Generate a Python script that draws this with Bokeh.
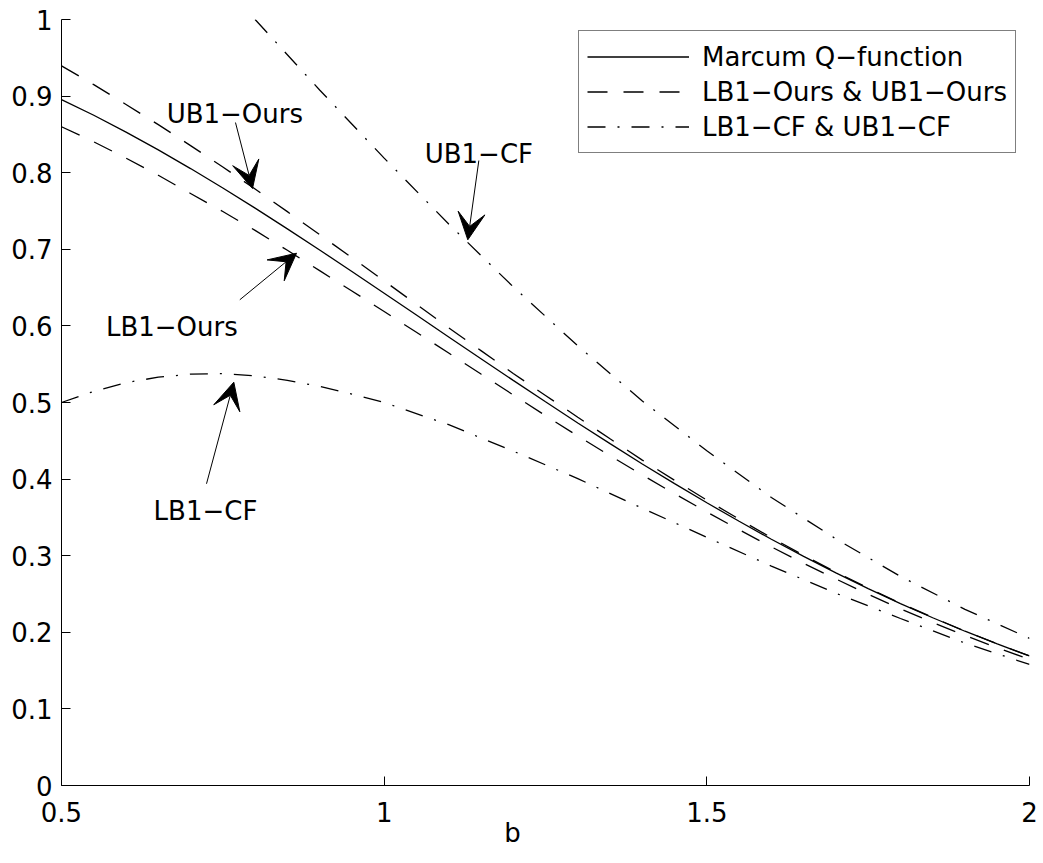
from bokeh.plotting import figure
from bokeh.models import (ColumnDataSource, Legend, LegendItem, Arrow, VeeHead,
                          Range1d, FixedTicker)
from bokeh.core.properties import value
from bokeh.embed import file_html
from bokeh.resources import INLINE

# ---------------- data ----------------
b = [0.5, 0.55, 0.6, 0.65, 0.7, 0.75, 0.8, 0.85, 0.9, 0.95, 1.0, 1.05, 1.1, 1.15,
     1.2, 1.25, 1.3, 1.35, 1.4, 1.45, 1.5, 1.55, 1.6, 1.65, 1.7, 1.75, 1.8, 1.85,
     1.9, 1.95, 2.0]
marcum_q = [0.8955, 0.8750, 0.8530, 0.8298, 0.8054, 0.7800, 0.7537, 0.7267,
            0.6991, 0.6711, 0.6427, 0.6142, 0.5856, 0.5572, 0.5289, 0.5009,
            0.4733, 0.4463, 0.4198, 0.3941, 0.3691, 0.3449, 0.3215, 0.2991,
            0.2776, 0.2571, 0.2375, 0.2190, 0.2014, 0.1848, 0.1691]
ub1_ours = [0.9395, 0.9150, 0.8890, 0.8628, 0.8354, 0.8075, 0.7787, 0.7492,
            0.7191, 0.6891, 0.6587, 0.6282, 0.5976, 0.5677, 0.5379, 0.5092,
            0.4808, 0.4526, 0.4248, 0.3984, 0.3726, 0.3477, 0.3235, 0.3006,
            0.2786, 0.2579, 0.2380, 0.2194, 0.2016, 0.1850, 0.1692]
lb1_ours = [0.8600, 0.8403, 0.8190, 0.7966, 0.7729, 0.7493, 0.7247, 0.6987,
            0.6721, 0.6456, 0.6187, 0.5917, 0.5646, 0.5372, 0.5099, 0.4829,
            0.4563, 0.4306, 0.4053, 0.3809, 0.3571, 0.3339, 0.3115, 0.2901,
            0.2696, 0.2496, 0.2305, 0.2128, 0.1959, 0.1798, 0.1646]

b_ub1_cf = [0.8, 0.9, 1.0, 1.1, 1.2, 1.3, 1.4, 1.5, 1.6, 1.7, 1.8, 1.9, 2.0]
ub1_cf = [1.000, 0.908, 0.819, 0.733, 0.651, 0.574, 0.502, 0.437, 0.376,
          0.322, 0.273, 0.230, 0.192]

b_lb1_cf = [0.5, 0.55, 0.6, 0.65, 0.7, 0.75, 0.8, 0.85, 0.9, 0.95, 1.0,
            1.1, 1.2, 1.3, 1.4, 1.5, 1.6, 1.7, 1.8, 1.9, 2.0]
lb1_cf = [0.500, 0.5145, 0.526, 0.533, 0.537, 0.5378, 0.5348, 0.529, 0.521,
          0.511, 0.500, 0.471, 0.4365, 0.4006, 0.362, 0.324, 0.2865, 0.251,
          0.218, 0.186, 0.158]

x_ticks = [0.5, 1.0, 1.5, 2.0]
x_tick_labels = ["0.5", "1", "1.5", "2"]
y_ticks = [0.0, 0.1, 0.2, 0.3, 0.4, 0.5, 0.6, 0.7, 0.8, 0.9, 1.0]
y_tick_labels = ["0", "0.1", "0.2", "0.3", "0.4", "0.5", "0.6", "0.7", "0.8", "0.9", "1"]
x_title = "b"

legend_labels = ["Marcum Q\u2212function", "LB1\u2212Ours & UB1\u2212Ours", "LB1\u2212CF & UB1\u2212CF"]

# annotation texts (centre x, baseline y) and arrows (start -> end)
note_text = ["UB1\u2212Ours", "UB1\u2212CF", "LB1\u2212Ours", "LB1\u2212CF"]
note_x = [0.7686, 1.1467, 0.6710, 0.7231]
note_y = [0.8769, 0.8247, 0.5983, 0.3590]
arrow_x0 = [0.7696, 1.1467, 0.7763, 0.7247]
arrow_y0 = [0.8655, 0.8159, 0.6341, 0.3939]
arrow_x1 = [0.7960, 1.1296, 0.8642, 0.7670]
arrow_y1 = [0.7794, 0.7124, 0.6949, 0.5265]

FONT = "DejaVu Sans"
FS = "26px"
DASH = "20 16"
DASHDOT = "18 12 2 12"
LW = 1.3

p = figure(width=1043, height=863, output_backend="svg", toolbar_location=None,
           x_range=Range1d(0.5, 2.0), y_range=Range1d(0.0, 1.0),
           min_border_left=61, min_border_right=14, min_border_top=19,
           min_border_bottom=78)
p.xgrid.visible = False
p.ygrid.visible = False
p.outline_line_color = None
p.background_fill_color = "white"
p.border_fill_color = "white"

p.xaxis.ticker = FixedTicker(ticks=x_ticks)
p.xaxis.major_label_overrides = dict(zip(x_ticks, x_tick_labels))
p.yaxis.ticker = FixedTicker(ticks=y_ticks)
p.yaxis.major_label_overrides = dict(zip(y_ticks, y_tick_labels))
for ax in (p.xaxis[0], p.yaxis[0]):
    ax.major_tick_in = 9
    ax.major_tick_out = 0
    ax.minor_tick_in = 0
    ax.minor_tick_out = 0
    ax.axis_line_color = "black"
    ax.axis_line_width = 1
    ax.major_tick_line_color = "black"
    ax.major_tick_line_width = 1
    ax.major_label_text_font = FONT
    ax.major_label_text_font_size = FS
    ax.major_label_text_color = "black"
p.yaxis.major_label_standoff = 9
p.xaxis.major_label_standoff = 16

# x title: "b" sits a little left of the axis centre in the reference
p.xaxis.axis_label = x_title + "\u00a0" * 8
p.xaxis.axis_label_text_font = FONT
p.xaxis.axis_label_text_font_size = FS
p.xaxis.axis_label_text_font_style = "normal"
p.xaxis.axis_label_text_color = "black"
p.xaxis.axis_label_standoff = -7

r_m = p.line(b, marcum_q, line_color="black", line_width=LW)
r_lo = p.line(b, lb1_ours, line_color="black", line_width=LW, line_dash=DASH)
r_uo = p.line(b, ub1_ours, line_color="black", line_width=LW, line_dash=DASH)
r_lc = p.line(b_lb1_cf, lb1_cf, line_color="black", line_width=LW, line_dash=DASHDOT)
r_uc = p.line(b_ub1_cf, ub1_cf, line_color="black", line_width=LW, line_dash=DASHDOT)

# annotations
text_src = ColumnDataSource(dict(x=note_x, y=note_y, t=note_text))
p.text(x="x", y="y", text="t", source=text_src, text_align="center",
       text_baseline="alphabetic", text_font=value(FONT), text_font_size=FS,
       text_color="black")

arrow_src = ColumnDataSource(dict(x0=arrow_x0, y0=arrow_y0, x1=arrow_x1, y1=arrow_y1))
p.add_layout(Arrow(x_start="x0", y_start="y0", x_end="x1", y_end="y1", source=arrow_src,
                   line_color="black", line_width=1,
                   end=VeeHead(size=27, fill_color="black", line_color="black", line_width=1)))

legend = Legend(items=[LegendItem(label=legend_labels[0], renderers=[r_m]),
                       LegendItem(label=legend_labels[1], renderers=[r_lo]),
                       LegendItem(label=legend_labels[2], renderers=[r_lc])],
                location=(517, 632))
legend.glyph_width = 102
legend.glyph_height = 35
legend.label_height = 35
legend.label_standoff = 13
legend.padding = 8
legend.spacing = 0
legend.margin = 0
legend.border_line_color = "black"
legend.border_line_width = 1
legend.background_fill_color = "white"
legend.background_fill_alpha = 1
legend.label_text_font = FONT
legend.label_text_font_size = FS
legend.label_text_color = "black"
p.add_layout(legend)

open("out.html", "w").write(file_html(p, INLINE))
